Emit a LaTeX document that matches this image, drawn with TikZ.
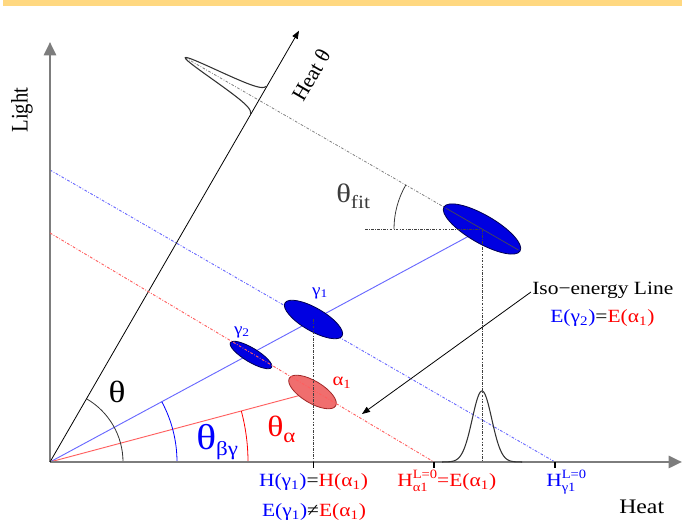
\documentclass[tikz,border=0pt]{standalone}
\usepackage{fontspec}
\setmainfont{Liberation Serif}
\usetikzlibrary{arrows.meta,calc}
\definecolor{barY}{RGB}{255,216,128}
\definecolor{axgray}{RGB}{125,125,125}
\definecolor{lblue}{RGB}{105,105,255}
\definecolor{lred}{RGB}{255,95,95}
\definecolor{eblue}{RGB}{0,0,225}
\definecolor{eblueline}{RGB}{0,0,80}
\definecolor{ered}{RGB}{240,110,110}
\definecolor{eredline}{RGB}{160,40,40}
\definecolor{dkgray}{RGB}{60,60,60}
\newcommand{\sx}[1]{\scalebox{1.15}[1]{#1}}
\newcommand{\supsub}[2]{\begingroup\fontsize{9.5}{10}\selectfont\setbox0\hbox{\raisebox{6.5pt}{#1}}\setbox2\hbox{\raisebox{-3.5pt}{#2}}\ifdim\wd0>\wd2 \rlap{\box2}\box0 \else \rlap{\box0}\box2\fi\endgroup}
\begin{document}
\begin{tikzpicture}[x=0.75pt,y=0.75pt,
  axisline/.style={draw=axgray,line width=2pt,-{Triangle[length=10pt,width=9pt]}},
  thinarrow/.style={draw=black,line width=0.6pt,-{Triangle[length=6pt,width=4.5pt]}},
  bluedot/.style={draw=lblue,line width=0.7pt,dash pattern=on 2pt off 1.2pt on 0.6pt off 1.2pt},
  reddot/.style={draw=lred,line width=0.7pt,dash pattern=on 2pt off 1.2pt on 0.6pt off 1.2pt},
  graydot/.style={draw=gray,line width=0.6pt,dash pattern=on 2pt off 1.2pt on 0.6pt off 1.2pt},
  blkdash/.style={draw=black!75,line width=0.6pt,dash pattern=on 2pt off 1pt on 0.6pt off 1pt},
  gcurve/.style={draw=black!80,line width=0.8pt},
  bluell/.style={fill=eblue,draw=eblueline,line width=0.6pt},
  redell/.style={fill=ered,draw=eredline,line width=0.6pt},
  lbl/.style={inner sep=0pt,font=\fontsize{14}{16}\selectfont},
]
\useasboundingbox (0,0) rectangle (682,523);
\fill[barY] (3,517) rectangle (682,523);

% key points
\coordinate (O) at (50,61);
\coordinate (Ltop) at (50,481);
\coordinate (Hend) at (682,61);
\coordinate (T) at ($(O)+(60:498)$);
\coordinate (E) at (482,294);
\coordinate (P) at ($(O)!(E)!(T)$);
\coordinate (Tip) at ($(P)+(150:85)$);
\coordinate (G1) at (313.5,203.5);
\coordinate (G2) at (251,168);
\coordinate (A1) at (312.5,131);
\coordinate (Bs) at (50,353);
\coordinate (Be) at (555,61);
\coordinate (Rs) at (50,290);
\coordinate (Re) at (434,61);
\coordinate (HG) at (313.5,61);
\coordinate (HE) at (482,61);
\coordinate (Fs) at (365,294);
\coordinate (IsoS) at (531,231);
\coordinate (IsoT) at (362,109);

% iso-energy dotted lines and projection line
\draw[bluedot] (Bs) -- (Be);
\draw[graydot] (Tip) -- (E);

% solid lines from origin
\draw[lblue,line width=0.7pt] (O) -- (E);
\draw[lred,line width=0.7pt] (O) -- (A1);

% angle arcs
\draw[black!80,line width=0.6pt] ($(O)+(73,0)$) arc[start angle=0,end angle=60,radius=73];
\draw[blue,line width=0.6pt] ($(O)+(127,0)$) arc[start angle=0,end angle=28.3,radius=127];
\draw[red,line width=0.6pt] ($(O)+(198,0)$) arc[start angle=0,end angle=14.9,radius=198];
\draw[dkgray,line width=0.6pt] ($(E)+(150:88)$) arc[start angle=150,end angle=180,radius=88];

% axes
\draw[axisline] (O) -- (Ltop);
\draw[axisline] (O) -- (Hend);
\draw[thinarrow] (O) -- (T);

% gaussians
\draw[gcurve] plot[domain=-40:40,samples=81,smooth] ({482+\x},{61+71*exp(-(\x*\x)/190)});
\begin{scope}[shift={(P)},rotate=60]
\draw[gcurve] plot[domain=-16:16,samples=65,smooth] (\x,{85*exp(-(\x*\x)/50)});
\end{scope}

% ellipses
\draw[bluell,rotate around={-30:(E)}] (E) ellipse[x radius=44,y radius=14];
\draw[bluell,rotate around={-30:(G1)}] (G1) ellipse[x radius=33,y radius=11.5];
\draw[bluell,rotate around={-31:(G2)}] (G2) ellipse[x radius=24,y radius=7];
\draw[redell,rotate around={-31:(A1)}] (A1) ellipse[x radius=27,y radius=11];
\draw[reddot] (Rs) -- (Re);
\draw[black!70,line width=0.5pt] ($(E)+(150:42)$) -- ($(E)+(-30:42)$);

% dashed guides
\draw[blkdash] (G1) -- (HG);
\draw[blkdash] (E) -- (HE);
\draw[blkdash] (Fs) -- (E);

% ticks
\foreach \t in {313.5,434,555}{\draw[black,line width=0.8pt] (\t,61) -- (\t,55);}

% iso-energy arrow
\draw[thinarrow] (IsoS) -- (IsoT);

% labels
\node[rotate=90,inner sep=0pt] (lightlbl) at (22,413) {\scalebox{1}[1.15]{\fontsize{15.5}{17}\selectfont Light}};
\node[lbl,anchor=base west] (heatlbl) at (619,9) {\fontsize{15.5}{17}\selectfont\sx{Heat}};
\node[rotate=60,inner sep=0pt] (heatth) at (311,448) {\fontsize{16}{18}\selectfont Heat θ};

\node[lbl,anchor=base] (hlbl) at (313.5,36) {\sx{\textcolor{blue}{H(γ\textsubscript{1})}=\textcolor{red}{H(α\textsubscript{1})}}};
\node[lbl,anchor=base] (elbl) at (314,6) {\sx{\textcolor{blue}{E(γ\textsubscript{1})}≠\textcolor{red}{E(α\textsubscript{1})}}};
\node[lbl,anchor=base west] (h0a) at (397,36) {\sx{\textcolor{red}{H\supsub{L=0}{α1}=E(α\textsubscript{1})}}};
\node[lbl,anchor=base west] (h0g) at (546,36) {\sx{\textcolor{blue}{H\supsub{L=0}{γ1}}}};

\node[lbl,anchor=base west] (isolbl) at (532,228) {\sx{Iso−energy Line}};
\node[lbl,anchor=base west] (isoeq) at (550,200) {\sx{\textcolor{blue}{E(γ\textsubscript{2})}=\textcolor{red}{E(α\textsubscript{1})}}};

\node[lbl,text=blue] (g1lbl) at (320,230) {\fontsize{12.5}{14}\selectfont\sx{γ\textsubscript{1}}};
\node[lbl,text=blue] (g2lbl) at (242,191) {\fontsize{12.5}{14}\selectfont\sx{γ\textsubscript{2}}};
\node[lbl,text=red] (a1lbl) at (342,140) {\fontsize{13.5}{15}\selectfont\sx{α\textsubscript{1}}};

\node[lbl,text=black] (thlbl) at (117,131) {\fontsize{23}{24}\selectfont\sx{θ}};
\node[lbl,anchor=base west,text=blue] (thbg) at (196,73) {\sx{\fontsize{27}{28}\selectfont θ\raisebox{-4pt}{\fontsize{15}{16}\selectfont βγ}}};
\node[lbl,anchor=base west,text=red] (tha) at (267,86) {\sx{\fontsize{22}{24}\selectfont θ\raisebox{-4pt}{\fontsize{15}{16}\selectfont α}}};
\node[lbl,anchor=base west,text=dkgray] (thfit) at (336,320) {\sx{\fontsize{20}{22}\selectfont θ\raisebox{-4pt}{\fontsize{14}{15}\selectfont fit}}};
\end{tikzpicture}
\end{document}
